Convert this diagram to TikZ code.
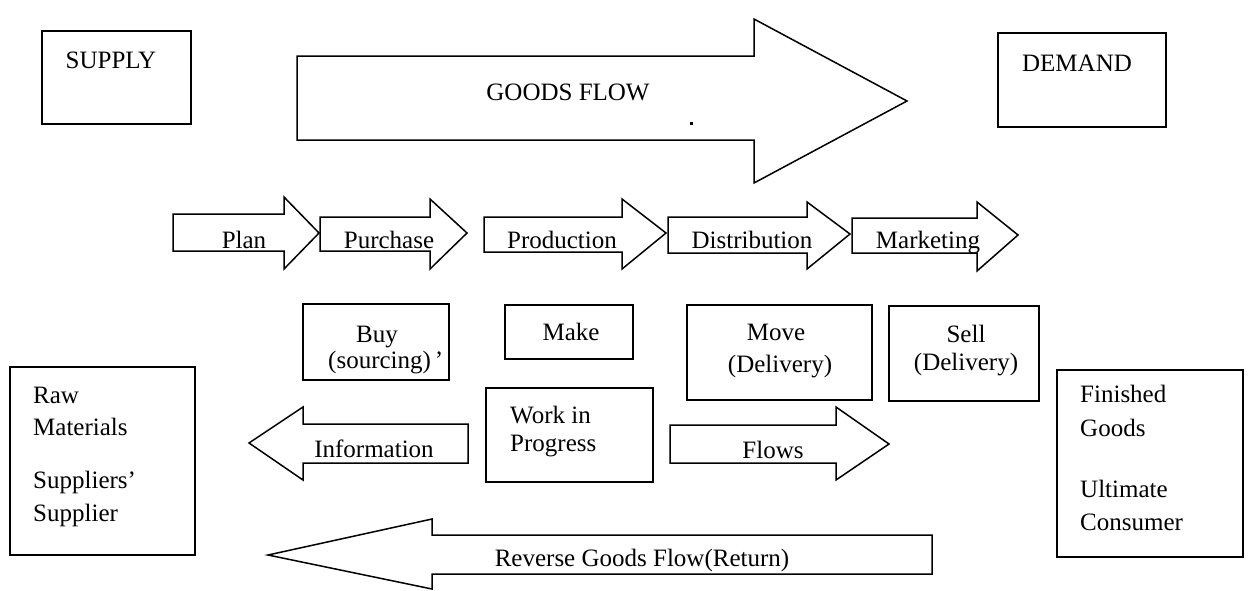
\documentclass[tikz,border=0pt]{standalone}
\usepackage{fontspec}
\setmainfont{Liberation Serif}
% block arrow: #1 tail x, #2 head base x, #3 tip x,
% #4/#5 shaft top/bottom, #6/#7 head top/bottom, #8 tip y
\newcommand{\blockarrow}[8]{%
  \draw[outline] (#1,#4) -- (#2,#4) -- (#2,#6) -- (#3,#8) -- (#2,#7) -- (#2,#5) -- (#1,#5) -- cycle;}
\begin{document}
\begin{tikzpicture}[x=1pt,y=-1pt,
  outline/.style={draw=black, line width=1.5pt, line join=miter, miter limit=10},
  txt/.style={font=\fontsize{25}{30}\selectfont, inner sep=0pt, anchor=base},
  txtl/.style={txt, anchor=base west}]
\useasboundingbox (0,0) rectangle (1249,590);

% ---- top row: supply, goods flow, demand
\draw[outline] (42,31) rectangle (191,124);
\node[txt] (supply) at (111,68) {SUPPLY};

\blockarrow{297}{754}{907}{56}{140}{19}{183}{101}
\node[txt] (goods) at (568,100) {GOODS FLOW};
\fill (690,122) rectangle (693,125);

\draw[outline] (998,33) rectangle (1166,127);
\node[txt] (demand) at (1077,71) {DEMAND};

% ---- process chain
\blockarrow{173}{284}{319}{214}{251}{197}{269}{233}
\node[txt] (plan) at (244,248) {Plan};
\blockarrow{320}{430}{467}{217}{251}{199}{269}{233}
\node[txt] (purchase) at (389,248) {Purchase};
\blockarrow{484}{622}{666}{217}{252}{199}{269}{233}
\node[txt] (production) at (562,248) {Production};
\blockarrow{668}{807}{850}{217}{253}{202}{269}{234}
\node[txt] (distribution) at (752,248) {Distribution};
\blockarrow{852}{977}{1018}{218}{253}{202}{271}{235}
\node[txt] (marketing) at (928,248) {Marketing};

% ---- activity boxes
\draw[outline] (303,304) rectangle (449,380);
\node[txt] (buy) at (377,342) {Buy};
\node[txtl] (sourcing) at (328,368) {(sourcing)\kern4pt'};

\draw[outline] (505,305) rectangle (633,359);
\node[txt] (make) at (571,340) {Make};

\draw[outline] (687,305) rectangle (872,400);
\node[txt] (move) at (776,340) {Move};
\node[txt] (delivery1) at (780,372) {(Delivery)};

\draw[outline] (889,306) rectangle (1039,401);
\node[txt] (sell) at (966,342) {Sell};
\node[txt] (delivery2) at (966,370) {(Delivery)};

% ---- end boxes
\draw[outline] (10,367) rectangle (195,555);
\node[txtl] (raw) at (33,403) {Raw};
\node[txtl] (materials) at (33,435) {Materials};
\node[txtl] (suppliers) at (33,488) {Suppliers'};
\node[txtl] (supplier) at (33,521) {Supplier};

\draw[outline] (1057,370) rectangle (1243,557);
\node[txtl] (finished) at (1080,402) {Finished};
\node[txtl] (fgoods) at (1080,436) {Goods};
\node[txtl] (ultimate) at (1080,497) {Ultimate};
\node[txtl] (consumer) at (1080,530) {Consumer};

% ---- middle: information, work in progress, flows
\blockarrow{468}{303}{249}{424}{463}{407}{480}{443}
\node[txt] (information) at (374,457) {Information};

\draw[outline] (486,388) rectangle (653,482);
\node[txtl] (workin) at (510,423) {Work in};
\node[txtl] (progress) at (510,451) {Progress};

\blockarrow{670}{836}{889}{425}{463}{407}{480}{444}
\node[txt] (flows) at (773,458) {Flows};

% ---- reverse flow
\blockarrow{932}{432}{268}{535}{574}{519}{589}{555}
\node[txt] (reverse) at (642,566) {Reverse Goods Flow(Return)};
\end{tikzpicture}
\end{document}
